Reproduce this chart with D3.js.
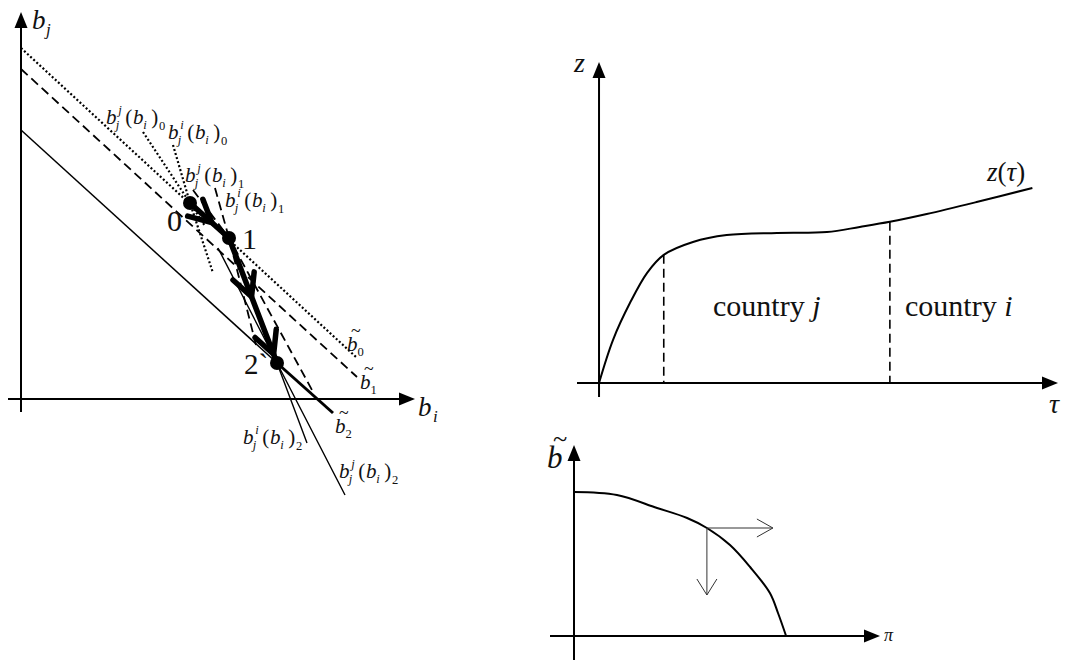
<!DOCTYPE html>
<html><head><meta charset="utf-8">
<script src="https://cdn.jsdelivr.net/npm/d3@7"></script>
<style>html,body{margin:0;padding:0;background:#fff}</style>
</head><body>
<svg id="fig" width="1066" height="662"></svg>
<script>
// ---------- Left panel: (b_i, b_j) plane ----------
const budget0 = [[0, 87.75], [83.75, 10.5]];      // b~0, dotted
const budget1 = [[0, 82.5], [84, 5.5]];           // b~1, dashed
const budget2 = [[0, 67.25], [64, 9]];            // b~2, solid
const budget2Tail = [[64, 9], [78, -3.5]];        // b~2 beyond point 2 (heavy)
const equilibria = [[42.25, 49], [52, 40.25], [64, 9]];
const equilibriumNames = ["0", "1", "2`"];
const reactionJ0 = [[30.5, 66.75], [42.25, 49], [46, 43.25]];
const reactionI0 = [[38, 63.5], [42.25, 49], [48, 31.5]];
const reactionJ1 = [[43, 52.25], [52, 40.25], [72.75, 2.25]];
const reactionI1 = [[48.5, 52.75], [52, 40.25], [58.75, 13.5]];
const reactionI2 = [[52.75, 38.5], [64, 9], [71.5, -11]];
const reactionJ2 = [[49.25, 37.75], [64, 9], [81, -24]];
// chevrons along the path: [segment index, fraction]
const pathArrows = [[0, 0.56], [1, 0.47], [1, 0.93]];

// ---------- Top-right panel: z(tau) ----------
const tau  = [0, 0.31, 0.69, 1.07, 1.44, 2.09, 2.84, 3.96, 5.07, 5.8, 6.47, 7.29, 8.4, 9.64];
const zTau = [0, 1.43, 2.67, 3.67, 4.27, 4.7, 4.93, 5.0, 5.03, 5.2, 5.37, 5.63, 6.03, 6.5];
const cutIndex = [4, 10];
const regionNames = [["country ", "j"], ["country ", "i"]];

// ---------- Bottom-right panel: b~(pi) ----------
const piVals = [0, 1.43, 2.77, 3.77, 4.43, 5.2, 5.87, 6.53, 6.8, 7.07];
const bTilde = [7.2, 7.05, 6.4, 5.9, 5.4, 4.55, 3.45, 2.15, 1.15, 0];
const shiftIndex = 4;
const shiftRightTo = 6.63;
const shiftDownTo = 2.05;

const svg = d3.select("#fig");
const FONT = "'Liberation Serif','Times New Roman',serif";
const INK = "#000";

function txt(g, x, y, s, fs, italic, anchor, fill) {
  return g.append("text").attr("x", x).attr("y", y).text(s)
    .attr("font-family", FONT).attr("font-size", fs)
    .attr("font-style", italic ? "italic" : "normal")
    .attr("text-anchor", anchor || "start")
    .attr("fill", fill || "#111");
}
function arrowHead(g, tip, angle, len, half) {
  const bx = tip[0] - len * Math.cos(angle), by = tip[1] - len * Math.sin(angle);
  const px = -Math.sin(angle) * half, py = Math.cos(angle) * half;
  g.append("path")
    .attr("d", `M${tip[0]},${tip[1]}L${bx + px},${by + py}L${bx - px},${by - py}Z`)
    .attr("fill", INK);
}
function axesWithArrows(g, x, y, lw) {
  const [x0, x1] = x.domain(), [y0, y1] = y.domain();
  g.append("line").attr("x1", x(0)).attr("x2", x(0)).attr("y1", y(y0)).attr("y2", y(y1) + 10)
    .attr("stroke", INK).attr("stroke-width", lw);
  g.append("line").attr("x1", x(x0)).attr("x2", x(x1) - 10).attr("y1", y(0)).attr("y2", y(0))
    .attr("stroke", INK).attr("stroke-width", lw);
  arrowHead(g, [x(0), y(y1)], -Math.PI / 2, 16, 6.5);
  arrowHead(g, [x(x1), y(0)], 0, 16, 6.5);
}
function reactionLabel(g, x, y, sup, n, fs) {
  txt(g, x, y, "b", fs, true);
  txt(g, x + 0.58 * fs, y - 0.5 * fs, sup, 0.6 * fs, true);
  txt(g, x + 0.46 * fs, y + 0.22 * fs, "j", 0.6 * fs, true);
  txt(g, x + 0.92 * fs, y, "(", fs, false);
  txt(g, x + 1.28 * fs, y, "b", fs, true);
  txt(g, x + 1.77 * fs, y + 0.22 * fs, "i", 0.6 * fs, true);
  txt(g, x + 2.15 * fs, y, ")", fs, false);
  txt(g, x + 2.52 * fs, y + 0.3 * fs, n, 0.6 * fs, false);
}
// italic b with a tilde accent set just above its ascender
function tildeLabel(g, x, y, sub, fs) {
  txt(g, x, y, "b", fs, true);
  txt(g, x + 0.42 * fs, y - 0.66 * fs, "~", 0.85 * fs, false, "middle");
  if (sub !== null) txt(g, x + 0.5 * fs, y + 0.25 * fs, sub, 0.6 * fs, false);
}

// ===== Left panel =====
const L = svg.append("g");
const xL = d3.scaleLinear().domain([-3.25, 98.5]).range([8, 415]);
const yL = d3.scaleLinear().domain([-3.25, 96.75]).range([412, 12]);
const lineL = d3.line().x(d => xL(d[0])).y(d => yL(d[1]));
const styles = {
  dotted: { w: 2.2, dash: "2,2.2" },
  dashed: { w: 1.8, dash: "9,5" },
  solid:  { w: 1.5, dash: null }
};
function drawL(pts, style, w) {
  const s = styles[style];
  L.append("path").attr("d", lineL(pts)).attr("fill", "none")
    .attr("stroke", INK).attr("stroke-width", w || s.w)
    .attr("stroke-dasharray", s.dash);
}
axesWithArrows(L, xL, yL, 2);
drawL(budget0, "dotted");
drawL(budget1, "dashed");
drawL(budget2, "solid");
drawL(budget2Tail, "solid", 3);
drawL(reactionJ0, "dotted");
drawL(reactionI0, "dotted");
drawL(reactionJ1, "dashed");
drawL(reactionI1, "dashed");
drawL(reactionI2, "solid", 1.4);
drawL(reactionJ2, "solid", 1.4);

// heavy adjustment path 0 -> 1 -> 2 with chevrons
L.append("path").attr("d", lineL(equilibria)).attr("fill", "none")
  .attr("stroke", INK).attr("stroke-width", 5.5).attr("stroke-linejoin", "round");
pathArrows.forEach(([k, t]) => {
  const a = equilibria[k], b = equilibria[k + 1];
  const tip = [xL(a[0] + (b[0] - a[0]) * t), yL(a[1] + (b[1] - a[1]) * t)];
  const ang = Math.atan2(yL(b[1]) - yL(a[1]), xL(b[0]) - xL(a[0]));
  const back = ang + Math.PI, spread = 27 * Math.PI / 180, len = 25;
  const p1 = [tip[0] + len * Math.cos(back - spread), tip[1] + len * Math.sin(back - spread)];
  const p2 = [tip[0] + len * Math.cos(back + spread), tip[1] + len * Math.sin(back + spread)];
  L.append("path").attr("d", `M${p1}L${tip}L${p2}`).attr("fill", "none")
    .attr("stroke", INK).attr("stroke-width", 5.5)
    .attr("stroke-linecap", "round").attr("stroke-linejoin", "round");
});
L.selectAll("circle.eq").data(equilibria).join("circle").attr("class", "eq")
  .attr("cx", d => xL(d[0])).attr("cy", d => yL(d[1])).attr("r", 7).attr("fill", INK);

// point names
txt(L, xL(equilibria[0][0]) - 23, yL(equilibria[0][1]) + 28, equilibriumNames[0], 30, false);
txt(L, xL(equilibria[1][0]) + 13, yL(equilibria[1][1]) + 11, equilibriumNames[1], 30, false);
txt(L, xL(equilibria[2][0]) - 33, yL(equilibria[2][1]) + 11, equilibriumNames[2], 29, false);

// axis names
txt(L, xL(0) + 11, yL(96.75) + 17, "b", 27, true);
txt(L, xL(0) + 25, yL(96.75) + 23, "j", 17, true);
txt(L, xL(98.5) + 3, yL(0) + 17, "b", 27, true);
txt(L, xL(98.5) + 18, yL(0) + 23, "i", 17, true);

// line names
reactionLabel(L, 106, 124, "j", "0", 21);
reactionLabel(L, 168, 139, "i", "0", 21);
reactionLabel(L, 185, 182, "j", "1", 21);
reactionLabel(L, 225, 207, "i", "1", 21);
reactionLabel(L, 243, 444, "i", "2", 21);
reactionLabel(L, 339, 478, "j", "2", 21);
tildeLabel(L, 347, 351, "0", 21);
tildeLabel(L, 360, 389, "1", 21);
tildeLabel(L, 335, 433, "2", 21);

// ===== Top-right panel =====
const T = svg.append("g");
const xT = d3.scaleLinear().domain([-0.49, 10.21]).range([577, 1058]);
const yT = d3.scaleLinear().domain([-0.47, 10.7]).range([397, 62]);
axesWithArrows(T, xT, yT, 2);
const zData = tau.map((t, i) => [t, zTau[i]]);
T.append("path")
  .attr("d", d3.line().x(d => xT(d[0])).y(d => yT(d[1])).curve(d3.curveCatmullRom.alpha(0.5))(zData))
  .attr("fill", "none").attr("stroke", INK).attr("stroke-width", 2);
cutIndex.forEach(i => {
  T.append("line").attr("x1", xT(tau[i])).attr("x2", xT(tau[i]))
    .attr("y1", yT(zTau[i])).attr("y2", yT(0))
    .attr("stroke", INK).attr("stroke-width", 1.6).attr("stroke-dasharray", "9,5");
});
const regionX = [713, 905];
regionNames.forEach((r, k) => {
  const t = txt(T, regionX[k], 316, r[0], 30, false);
  t.append("tspan").attr("font-style", "italic").text(r[1]);
});
txt(T, 574, 72, "z", 28, true);
txt(T, 1049, 413, "\u03C4", 28, true);
const zl = txt(T, 987, 181, "z", 27, true);
zl.append("tspan").attr("font-style", "normal").text("(");
zl.append("tspan").attr("font-style", "italic").text("\u03C4");
zl.append("tspan").attr("font-style", "normal").text(")");

// ===== Bottom-right panel =====
const B = svg.append("g");
const xB = d3.scaleLinear().domain([-0.8, 10.2]).range([550, 880]);
const yB = d3.scaleLinear().domain([-1.2, 9.55]).range([660, 445]);
axesWithArrows(B, xB, yB, 2);
const bData = piVals.map((p, i) => [p, bTilde[i]]);
B.append("path")
  .attr("d", d3.line().x(d => xB(d[0])).y(d => yB(d[1])).curve(d3.curveCatmullRom.alpha(0.5))(bData))
  .attr("fill", "none").attr("stroke", INK).attr("stroke-width", 2);
const s0 = [xB(piVals[shiftIndex]), yB(bTilde[shiftIndex])];
const sR = [xB(shiftRightTo), s0[1]];
const sD = [s0[0], yB(shiftDownTo)];
const thin = "#333";
B.append("path").attr("d", `M${s0}L${sR}M${sR[0] - 16},${sR[1] - 9}L${sR}L${sR[0] - 16},${sR[1] + 9}`)
  .attr("fill", "none").attr("stroke", thin).attr("stroke-width", 1);
B.append("path").attr("d", `M${s0}L${sD}M${sD[0] - 10},${sD[1] - 16}L${sD}L${sD[0] + 10},${sD[1] - 16}`)
  .attr("fill", "none").attr("stroke", thin).attr("stroke-width", 1);
tildeLabel(B, 547, 468, null, 31);
txt(B, 884, 641, "\u03C0", 18, true);
</script>
</body></html>
